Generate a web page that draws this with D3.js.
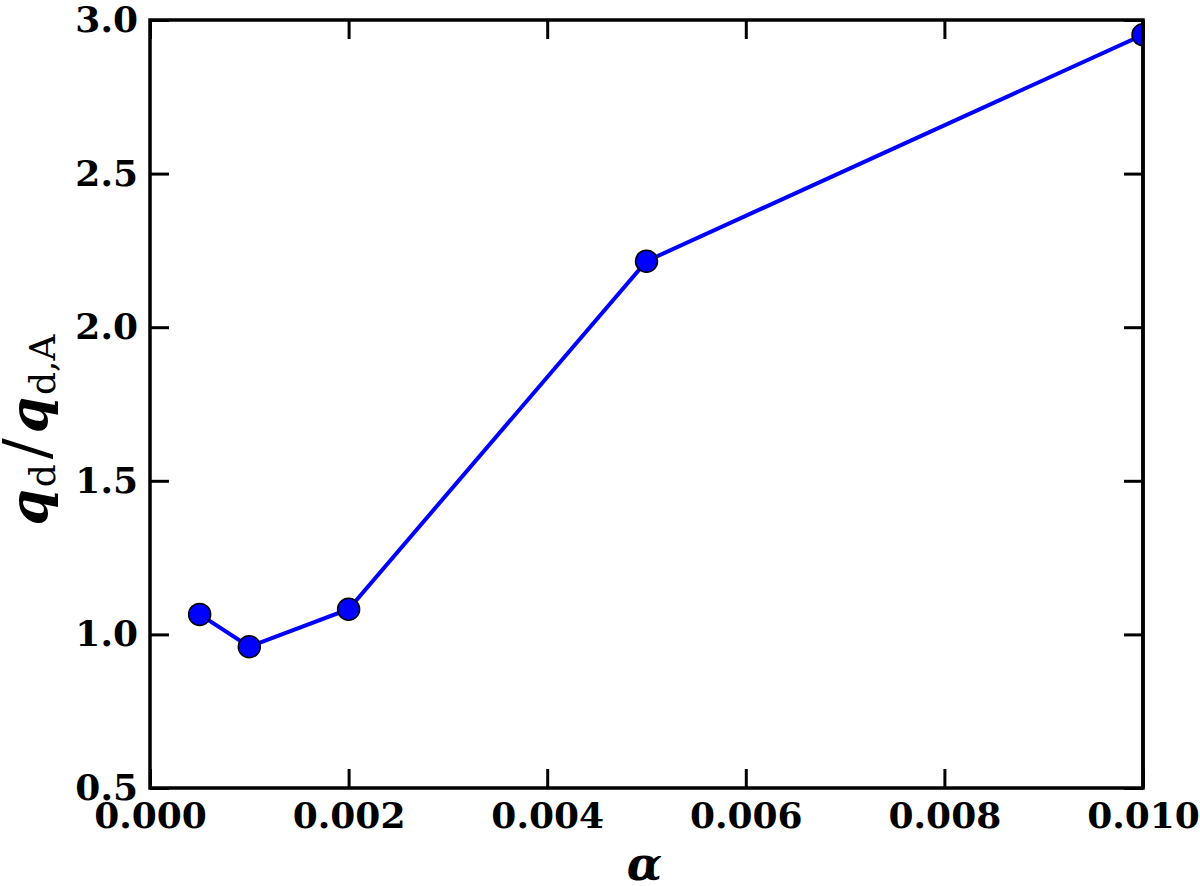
<!DOCTYPE html>
<html><head><meta charset="utf-8">
<script src="https://cdn.jsdelivr.net/npm/d3@7"></script>
<style>
body{margin:0;background:#fff;}
svg{display:block;}
</style></head>
<body>
<svg id="chart" width="1200" height="886"></svg>
<script>
const alphaValues = [0.0005, 0.001, 0.002, 0.005, 0.01];
const ratioValues = [1.065, 0.96, 1.082, 2.215, 2.952];
const xTicks = [0, 0.002, 0.004, 0.006, 0.008, 0.010];
const yTicks = [0.5, 1.0, 1.5, 2.0, 2.5, 3.0];

const svg = d3.select("#chart");
const L = 150, R = 1143, T = 20, B = 788;
const x = d3.scaleLinear().domain([0, 0.010]).range([L, R]);
const y = d3.scaleLinear().domain([0.5, 3.0]).range([B, T]);
const font = "'DejaVu Serif', serif";
const tickLen = 19;

// axes with inward ticks on all sides
const gB = svg.append("g").attr("transform", `translate(0,${B})`)
  .call(d3.axisBottom(x).tickValues(xTicks).tickFormat(d3.format(".3f")).tickSizeInner(-tickLen).tickSizeOuter(0).tickPadding(14));
const gT = svg.append("g").attr("transform", `translate(0,${T})`)
  .call(d3.axisTop(x).tickValues(xTicks).tickFormat("").tickSizeInner(-tickLen).tickSizeOuter(0));
const gL = svg.append("g").attr("transform", `translate(${L},0)`)
  .call(d3.axisLeft(y).tickValues(yTicks).tickFormat(d3.format(".1f")).tickSizeInner(-tickLen).tickSizeOuter(0).tickPadding(12));
const gR = svg.append("g").attr("transform", `translate(${R},0)`)
  .call(d3.axisRight(y).tickValues(yTicks).tickFormat("").tickSizeInner(-tickLen).tickSizeOuter(0));
[gB, gT, gL, gR].forEach(g => {
  g.select(".domain").remove();
  g.selectAll(".tick line").attr("stroke", "#000").attr("stroke-width", 3);
  g.selectAll("text").attr("font-family", font).attr("font-weight", "bold").attr("font-size", 36).attr("fill", "#000");
});

// frame
svg.append("rect").attr("x", L).attr("y", T).attr("width", R - L).attr("height", B - T)
  .attr("fill", "none").attr("stroke", "#000").attr("stroke-width", 3.5);

// line + markers
const data = alphaValues.map((a, i) => ({a, v: ratioValues[i]}));
svg.append("clipPath").attr("id", "clip").append("rect")
  .attr("x", L).attr("y", T).attr("width", R - L).attr("height", B - T);
const plot = svg.append("g").attr("clip-path", "url(#clip)");
plot.append("path").datum(data)
  .attr("d", d3.line().x(d => x(d.a)).y(d => y(d.v)))
  .attr("fill", "none").attr("stroke", "#0000ff").attr("stroke-width", 4);
plot.selectAll("circle").data(data).join("circle")
  .attr("cx", d => x(d.a)).attr("cy", d => y(d.v)).attr("r", 11)
  .attr("fill", "#0000ff").attr("stroke", "#000").attr("stroke-width", 1.5);
svg.append("line").attr("x1", R).attr("x2", R).attr("y1", T).attr("y2", B).attr("stroke", "#000").attr("stroke-width", 3.5);

// x label
svg.append("text").attr("x", (L + R) / 2 - 2).attr("y", 880)
  .attr("text-anchor", "middle").attr("font-family", font).attr("font-style", "italic")
  .attr("font-weight", "bold").attr("font-size", 46).text("α");

// y label
const yl = svg.append("text").attr("transform", `translate(47,430) rotate(-90)`)
  .attr("text-anchor", "middle").attr("font-family", font).attr("font-size", 52).attr("fill", "#000");
yl.append("tspan").attr("font-style", "italic").attr("font-weight", "bold").text("q");
yl.append("tspan").attr("font-size", 36).attr("dy", 8).attr("dx", 2).text("d");
yl.append("tspan").attr("font-size", 62).attr("dy", -8).attr("dx", 5).text("/");
yl.append("tspan").attr("font-style", "italic").attr("font-weight", "bold").attr("dx", 5).text("q");
yl.append("tspan").attr("font-size", 36).attr("dy", 8).attr("dx", 2).text("d,A");
</script>
</body></html>
